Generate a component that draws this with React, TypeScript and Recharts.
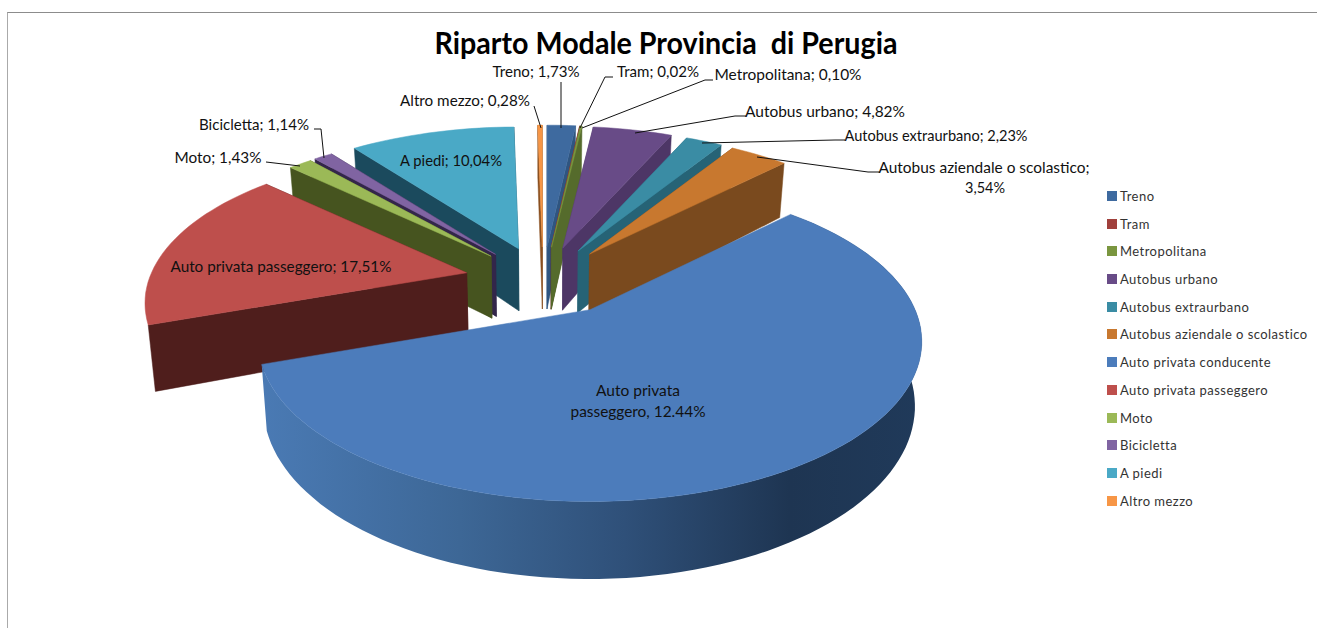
import { PieChart, Pie, Legend } from 'recharts';

const modalNames = ['Treno', 'Tram', 'Metropolitana', 'Autobus urbano', 'Autobus extraurbano', 'Autobus aziendale o scolastico', 'Auto privata conducente', 'Auto privata passeggero', 'Moto', 'Bicicletta', 'A piedi', 'Altro mezzo'];
const modalValues = [1.73, 0.02, 0.1, 4.82, 2.23, 3.54, 57.16, 17.51, 1.43, 1.14, 10.04, 0.28];
const topColors = ['#3E6A9F', '#A0403C', '#7A963F', '#684B87', '#3A8CA4', '#C8782F', '#4C7CBB', '#BE4F4C', '#9BB957', '#8064A2', '#4AA9C6', '#F79646'];
const wallColors = ['#2F5580', '#6B2A28', '#556B2C', '#4D3666', '#266376', '#7A4A1E', 'url(#rimBlue)', '#4F1E1C', '#46541F', '#33264A', '#1B4A5D', '#8A5020'];

// back to front, the big slices have to cover the walls of the others
const drawOrder = [11, 10, 9, 8, 0, 1, 2, 3, 4, 5, 7, 6];

const chartData = modalNames.map((name, i) => ({ name, value: modalValues[i], fill: topColors[i] }));

// text of the data labels, x/y are the middle of each line
const labelTexts = [
  [{ t: 'Treno; 1,73%', x: 536, y: 71, w: 87 }],
  [{ t: 'Tram; 0,02%', x: 658, y: 71, w: 82 }],
  [{ t: 'Metropolitana; 0,10%', x: 788, y: 74, w: 147 }],
  [{ t: 'Autobus urbano; 4,82%', x: 825, y: 111, w: 160 }],
  [{ t: 'Autobus extraurbano; 2,23%', x: 936, y: 135, w: 183 }],
  [{ t: 'Autobus aziendale o scolastico;', x: 984, y: 167, w: 211 }, { t: '3,54%', x: 985, y: 187, w: 40 }],
  [{ t: 'Auto privata', x: 638, y: 390, w: 84 }, { t: 'passeggero, 12.44%', x: 638, y: 411, w: 135 }],
  [{ t: 'Auto privata passeggero; 17,51%', x: 281, y: 266, w: 221 }],
  [{ t: 'Moto; 1,43%', x: 218, y: 157, w: 87 }],
  [{ t: 'Bicicletta; 1,14%', x: 254, y: 124, w: 110 }],
  [{ t: 'A piedi; 10,04%', x: 451, y: 160, w: 102 }],
  [{ t: 'Altro mezzo; 0,28%', x: 465, y: 100, w: 130 }],
];

const leaderLines = [
  '561,82 561,128',
  '613,77 605,77 580,128',
  '713,80 705,80 582,128',
  '746,116 735,116 635,133',
  '845,140 835,140 702,143',
  '880,172 868,172 757,157',
  '',
  '',
  '266,162 300,166',
  '314,129 321,129 324,158',
  '',
  '534,106 541,128',
];

const explodeAmount = [75, 75, 75, 75, 75, 75, 88, 78, 75, 75, 75, 75];
const explodeTilt = [0.44, 0.44, 0.44, 0.44, 0.44, 0.44, 0.4, 0.44, 0.44, 0.44, 0.44, 0.44];
// the near slice is drawn a bit larger than the far ones
const radiusScaleX = [0.97, 0.97, 0.97, 0.97, 0.97, 0.97, 1, 0.97, 0.97, 0.97, 0.97, 0.97];
const radiusScaleY = [0.45, 0.45, 0.45, 0.45, 0.45, 0.45, 0.472, 0.45, 0.45, 0.45, 0.45, 0.45];
const PERSPECTIVE = 0.2;
const DEPTH = 62;
const WALL_CONVERGE = 0.018;

type Pt = { x: number; y: number; d: number };

function project(theta: number, r: number, ox: number, oy: number, ax: number, ay: number): Pt {
  const rad = (theta * Math.PI) / 180;
  const X = r * Math.sin(rad);
  const Z = r * Math.cos(rad);
  const w = 1 + PERSPECTIVE * Z;
  return { x: ox + (ax * X) / w, y: oy - (ay * Z) / w, d: DEPTH / w };
}

function toPath(pts: { x: number; y: number }[]) {
  return 'M' + pts.map((p) => `${p.x.toFixed(1)},${p.y.toFixed(1)}`).join('L') + 'Z';
}

// one exploded slice in 3D: cut faces, rim, then the top
function Slice3D(props: any, only: number) {
  const idx = modalNames.indexOf(props.name);
  if (idx !== only) return null;
  const ax = props.outerRadius * radiusScaleX[idx];
  const ay = props.outerRadius * radiusScaleY[idx];
  const th0 = 90 - props.startAngle;
  const th1 = 90 - props.endAngle;
  const mid = (((th0 + th1) / 2) * Math.PI) / 180;
  const ox = props.cx + explodeAmount[idx] * Math.sin(mid);
  const oy = props.cy - explodeAmount[idx] * explodeTilt[idx] * Math.cos(mid);
  const arc: Pt[] = [];
  const steps = Math.max(2, Math.ceil((th1 - th0) / 2));
  for (let s = 0; s <= steps; s++) arc.push(project(th0 + ((th1 - th0) * s) / steps, 1, ox, oy, ax, ay));
  const apex = project(0, 0, ox, oy, ax, ay);
  const down = (p: Pt): Pt => ({ x: p.x - (p.x - props.cx) * WALL_CONVERGE, y: p.y + p.d, d: p.d });
  const first = arc[0];
  const last = arc[arc.length - 1];
  const rim = [...arc, ...arc.map(down).reverse()];
  const startWall = [apex, first, down(first), down(apex)];
  const endWall = [apex, last, down(last), down(apex)];
  const walls = mid < Math.PI ? [startWall, endWall] : [endWall, startWall];
  const wall = wallColors[idx];
  const hasRim = wall.startsWith('url');
  return (
    <g>
      <defs>
        <linearGradient id="rimBlue" x1="0" y1="0" x2="1" y2="0">
          <stop offset="0" stopColor="#4A7AB4" />
          <stop offset="0.3" stopColor="#3D6796" />
          <stop offset="0.55" stopColor="#2F5079" />
          <stop offset="0.8" stopColor="#1E3552" />
          <stop offset="1" stopColor="#203A5A" />
        </linearGradient>
      </defs>
      {hasRim ? (
        <path d={toPath(rim)} fill={wall} />
      ) : (
        walls.map((w, i) => <path key={i} d={toPath(w)} fill={wall} stroke={wall} strokeWidth={0.5} />)
      )}
      <path d={toPath([apex, ...arc])} fill={topColors[idx]} stroke={topColors[idx]} strokeWidth={0.5} />
    </g>
  );
}

function DataLabel(props: any) {
  const idx = modalNames.indexOf(props.name);
  return (
    <g key={idx}>
      {leaderLines[idx] && <polyline points={leaderLines[idx]} fill="none" stroke="#111" strokeWidth={1} />}
      {labelTexts[idx].map((l) => (
        <text key={l.t} x={l.x} y={l.y} textAnchor="middle" dominantBaseline="central" textLength={l.w} lengthAdjust="spacingAndGlyphs" fontFamily="Lato" fontSize={15} fill="#111">
          {l.t}
        </text>
      ))}
    </g>
  );
}

function ModalLegend() {
  return (
    <div style={{ fontFamily: 'Lato', fontSize: 13, color: '#333' }}>
      {modalNames.map((name, i) => (
        <div key={name} style={{ display: 'flex', alignItems: 'center', height: 27.73, whiteSpace: 'nowrap' }}>
          <span style={{ width: 10, height: 10, background: topColors[i], marginRight: 3 }} />
          <span style={{ letterSpacing: 0.45 }}>{name}</span>
        </div>
      ))}
    </div>
  );
}

export default function App() {
  return (
    <div style={{ position: 'absolute', left: 0, top: 0, width: 1317, height: 628, background: '#fff', overflow: 'hidden' }}>
      <div style={{ position: 'absolute', left: 7, top: 12, width: 1310, height: 616, borderTop: '1px solid #8c8c8c', borderLeft: '1px solid #aaa' }} />
      <PieChart width={1317} height={628} margin={{ top: 0, right: 0, bottom: 0, left: 0 }}>
        <text x={666} y={42} textAnchor="middle" dominantBaseline="central" fontFamily="Lato" fontWeight={700} fontSize={30} fill="#000" style={{ whiteSpace: 'pre' }} textLength={463} lengthAdjust="spacingAndGlyphs">
          Riparto Modale Provincia  di Perugia
        </text>
        {drawOrder.map((only) => (
          <Pie
            key={only}
            data={chartData}
            dataKey="value"
            nameKey="name"
            cx={543}
            cy={280}
            outerRadius={325}
            startAngle={90}
            endAngle={-270}
            stroke="none"
            legendType="none"
            labelLine={false}
            shape={(p: any) => Slice3D(p, only)}
            isAnimationActive={false}
          />
        ))}
        <Pie
          data={chartData}
          dataKey="value"
          nameKey="name"
          cx={543}
          cy={280}
          outerRadius={325}
          startAngle={90}
          endAngle={-270}
          legendType="none"
          labelLine={false}
          label={DataLabel}
          shape={() => null}
          isAnimationActive={false}
        />
        <Legend content={ModalLegend} layout="vertical" wrapperStyle={{ left: 1107, top: 182, width: 210 }} />
      </PieChart>
    </div>
  );
}
